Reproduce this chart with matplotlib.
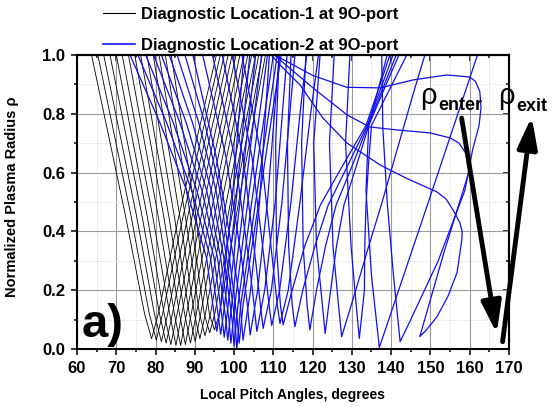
import matplotlib
matplotlib.use("Agg")
import matplotlib.pyplot as plt
from matplotlib.lines import Line2D
from matplotlib.ticker import MultipleLocator, NullFormatter

plt.rcParams['font.family'] = ['Liberation Sans', 'DejaVu Sans']
plt.rcParams['font.weight'] = 'bold'

# location-1 (black): x at rho = 1.0, 0.45, 0.12, min, 0.12, 0.45, 1.0
black_x = [
    [63.7, 72.4, 77.2, 79.0, 80.7, 85.9, 95.5],
    [65.3, 73.8, 78.4, 80.2, 81.8, 87.0, 96.5],
    [66.8, 75.2, 79.7, 81.5, 83.1, 88.2, 97.5],
    [68.4, 76.6, 81.0, 82.7, 84.3, 89.3, 98.5],
    [70.0, 77.9, 82.2, 83.9, 85.5, 90.5, 99.5],
    [71.5, 79.3, 83.6, 85.2, 86.7, 91.6, 100.5],
    [73.1, 80.7, 84.8, 86.4, 87.9, 92.7, 101.5],
    [74.7, 82.1, 86.1, 87.6, 89.1, 93.9, 102.5],
    [76.2, 83.4, 87.4, 88.9, 90.4, 95.0, 103.5],
    [77.8, 84.8, 88.6, 90.1, 91.5, 96.1, 104.5],
    [79.4, 86.2, 89.9, 91.3, 92.7, 97.3, 105.5],
    [80.9, 87.6, 91.2, 92.6, 94.0, 98.4, 106.3],
    [82.5, 88.9, 92.4, 93.8, 95.1, 99.4, 107.2],
    [84.0, 90.3, 93.7, 95.0, 96.3, 100.5, 108.0],
]
black_rmin = [0.035, 0.03, 0.025, 0.02, 0.015, 0.012, 0.012, 0.015,
              0.02, 0.025, 0.035, 0.045, 0.055, 0.065]

# location-2 (blue), first family: x at rho = 1.0, 0.77, 0.54, 0.31, 0.1, min, 0.15, 0.5, 1.0
b1_x = [
    [73.5, 81.1, 87.9, 93.0, 95.1, 95.6, 96.6, 99.5, 102.5],
    [75.5, 82.8, 89.2, 94.0, 96.1, 96.6, 97.6, 100.5, 104.0],
    [77.5, 84.5, 90.5, 94.9, 97.0, 97.5, 98.5, 101.5, 105.5],
    [79.5, 86.2, 91.8, 95.8, 97.9, 98.4, 99.4, 102.5, 107.0],
    [81.5, 87.8, 93.0, 96.6, 98.7, 99.2, 100.2, 103.5, 108.5],
    [83.5, 89.4, 94.2, 97.4, 99.5, 100.0, 101.0, 104.5, 110.0],
    [85.5, 91.0, 95.4, 98.1, 100.2, 100.7, 101.7, 105.5, 111.0],
    [87.5, 92.5, 96.4, 98.8, 100.8, 101.3, 102.3, 106.3, 112.0],
]
b1_rmin = [0.06, 0.05, 0.04, 0.03, 0.02, 0.01, 0.0, 0.02]

# second family: x at rho = 1.0, 0.65, 0.3, 0.15, min, 0.2, 0.5, 0.8, 1.0
b2_x = [
    [89.5, 95.5, 100.0, 101.6, 102.3, 104.2, 106.5, 108.0, 109.0],
    [92.0, 98.0, 102.0, 103.4, 104.1, 106.0, 108.5, 110.3, 111.5],
    [94.5, 100.2, 103.8, 105.1, 105.8, 107.8, 110.5, 112.3, 113.5],
    [97.0, 102.3, 105.5, 106.7, 107.4, 109.5, 112.2, 114.2, 115.5],
    [99.5, 104.6, 107.7, 108.9, 109.6, 111.6, 114.5, 116.8, 118.5],
    [102.0, 107.0, 109.8, 111.0, 111.7, 113.8, 116.8, 119.5, 121.5],
]
b2_rmin = [0.03, 0.048, 0.06, 0.07, 0.08, 0.087]

# third family: x at rho = 1.0, 0.7, 0.35, 0.15, min, 0.2, 0.35, 0.49, 0.62, 0.76, 0.88, 1.0
b3_x = [
    [111.5, 110.6, 110.8, 111.8, 112.5, 114.8, 118.0, 122.0, 127.5, 133.6, 136.7, 139.7],
    [114.5, 113.6, 113.9, 114.8, 115.5, 117.5, 120.6, 124.0, 128.8, 133.9, 137.2, 140.5],
    [118.3, 117.2, 117.6, 118.6, 119.3, 121.0, 123.3, 126.0, 130.0, 134.1, 137.7, 141.3],
    [121.9, 120.3, 121.0, 122.5, 123.2, 124.6, 126.1, 128.0, 131.1, 134.3, 138.1, 142.0],
    [125.5, 124.3, 125.2, 126.6, 127.4, 131.0, 134.3, 137.5, 140.3, 143.3, 145.9, 148.6],
    [129.5, 128.4, 129.8, 131.1, 131.9, 133.2, 133.3, 133.6, 134.2, 135.0, 139.5, 144.0],
]
b3_rmin = [0.082, 0.076, 0.065, 0.053, 0.042, 0.036]

# outer lines of sight
v137_x = [139.0, 134.3, 133.6, 135.0, 137.0, 149.5, 162.0]
v137_r = [1.0, 0.76, 0.54, 0.25, 0.005, 0.5, 1.0]

loop1_x = [137.6, 137.9, 139.0, 140.6, 142.3, 145.0, 152.0, 158.8, 160.8, 162.4,
           162.9, 162.6, 161.5, 160.0, 154.2, 145.6, 137.2, 128.7, 120.1, 111.7, 110.5]
loop1_r = [1.0, 0.75, 0.5, 0.25, 0.025, 0.1, 0.3, 0.54, 0.68, 0.76,
           0.82, 0.875, 0.91, 0.925, 0.932, 0.915, 0.888, 0.89, 0.93, 0.99, 1.0]

loop2_x = [109.5, 111.7, 116.8, 122.6, 128.8, 137.2, 144.0, 151.7, 154.0, 155.9,
           157.5, 158.1, 158.0, 156.8, 154.5, 151.7, 149.0, 147.3, 153.5, 160.0,
           160.2, 159.3, 157.3, 155.0, 149.9, 141.5, 134.6, 128.8, 120.1, 111.7, 110.3]
loop2_r = [1.0, 0.966, 0.898, 0.786, 0.70, 0.626, 0.58, 0.534, 0.51, 0.47,
           0.43, 0.40, 0.37, 0.26, 0.18, 0.11, 0.065, 0.042, 0.33, 0.61,
           0.635, 0.66, 0.70, 0.718, 0.735, 0.745, 0.755, 0.796, 0.888, 0.983, 1.0]

blue = '#1010ee'

fig = plt.figure(figsize=(5.58, 4.07), dpi=100)
ax = fig.add_axes([0.138, 0.1425, 0.774, 0.7225])

for xs, rm in zip(black_x, black_rmin):
    ax.plot(xs, [1.0, 0.45, 0.12, rm, 0.12, 0.45, 1.0], color='black', lw=0.6)

for xs, rm in zip(b1_x, b1_rmin):
    ax.plot(xs, [1.0, 0.77, 0.54, 0.31, 0.1, rm, 0.15, 0.5, 1.0], color=blue, lw=0.9)
for xs, rm in zip(b2_x, b2_rmin):
    ax.plot(xs, [1.0, 0.65, 0.3, 0.15, rm, 0.2, 0.5, 0.8, 1.0], color=blue, lw=0.9)
for xs, rm in zip(b3_x, b3_rmin):
    ax.plot(xs, [1.0, 0.7, 0.35, 0.15, rm, 0.2, 0.35, 0.49, 0.62, 0.76, 0.88, 1.0],
            color=blue, lw=0.9)
ax.plot(v137_x, v137_r, color=blue, lw=0.9)
ax.plot(loop1_x, loop1_r, color=blue, lw=0.9)
ax.plot(loop2_x, loop2_r, color=blue, lw=0.9)

ax.set_xlim(60, 170)
ax.set_ylim(0, 1.0)
ax.xaxis.set_major_locator(MultipleLocator(10))
ax.xaxis.set_minor_locator(MultipleLocator(5))
ax.yaxis.set_major_locator(MultipleLocator(0.2))
ax.yaxis.set_minor_locator(MultipleLocator(0.1))
ax.set_axisbelow(True)
ax.grid(which='major', color='#9a9a9a', lw=0.8)
ax.grid(which='minor', color='#d2d2d2', lw=0.7, ls=':')
ax.tick_params(which='both', direction='out', width=1.1, labelsize=12, pad=4)
ax.tick_params(which='major', length=4.5)
ax.tick_params(which='minor', length=2.5)
for s in ax.spines.values():
    s.set_linewidth(1.5)

top = ax.secondary_xaxis('top')
top.xaxis.set_major_locator(MultipleLocator(10))
top.xaxis.set_minor_locator(MultipleLocator(5))
top.xaxis.set_major_formatter(NullFormatter())
top.tick_params(which='both', direction='in', width=1.1)
top.tick_params(which='major', length=4.5)
top.tick_params(which='minor', length=2.5)
top.spines['top'].set_linewidth(1.5)
right = ax.secondary_yaxis('right')
right.yaxis.set_major_locator(MultipleLocator(0.2))
right.yaxis.set_minor_locator(MultipleLocator(0.1))
right.yaxis.set_major_formatter(NullFormatter())
right.tick_params(which='both', direction='in', width=1.1)
right.tick_params(which='major', length=4.5)
right.tick_params(which='minor', length=2.5)
right.spines['right'].set_linewidth(1.5)

ax.set_xlabel('Local Pitch Angles, degrees', fontsize=10, fontweight='bold')
ax.xaxis.set_label_coords(0.5, -0.133)
ax.set_ylabel('Normalized Plasma Radius \u03c1', fontsize=10.5, fontweight='bold')
ax.yaxis.set_label_coords(-0.135, 0.517)

ax.text(61.3, 0.041, 'a)', fontsize=34, fontweight='bold', va='baseline')
ax.text(147.3, 0.833, '\u03c1', fontsize=21, fontweight='normal', va='baseline')
ax.text(151.9, 0.813, 'enter', fontsize=13, va='baseline')
ax.text(167.2, 0.833, '\u03c1', fontsize=21, fontweight='normal', va='baseline', clip_on=False)
ax.text(171.8, 0.81, 'exit', fontsize=13, va='baseline', clip_on=False)

arrow = dict(arrowstyle='-|>,head_length=0.95,head_width=0.3', lw=3.5, color='black',
             mutation_scale=20, shrinkA=0, shrinkB=0, clip_on=False)
ax.annotate('', xy=(166.9, 0.053), xytext=(157.96, 0.785), arrowprops=arrow,
            annotation_clip=False)
ax.annotate('', xy=(175.8, 0.79), xytext=(168.4, 0.025), arrowprops=arrow,
            annotation_clip=False)

handles = [Line2D([], [], color='black', lw=0.8), Line2D([], [], color=blue, lw=1.2)]
fig.legend(handles, ['Diagnostic Location-1 at 9O-port', 'Diagnostic Location-2 at 9O-port'],
           loc='upper left', bbox_to_anchor=(0.1846, 0.983), frameon=False, fontsize=12,
           handlelength=1.9, handletextpad=0.4, labelspacing=0.96, borderpad=0,
           borderaxespad=0)

fig.savefig('out.png', dpi=100)
